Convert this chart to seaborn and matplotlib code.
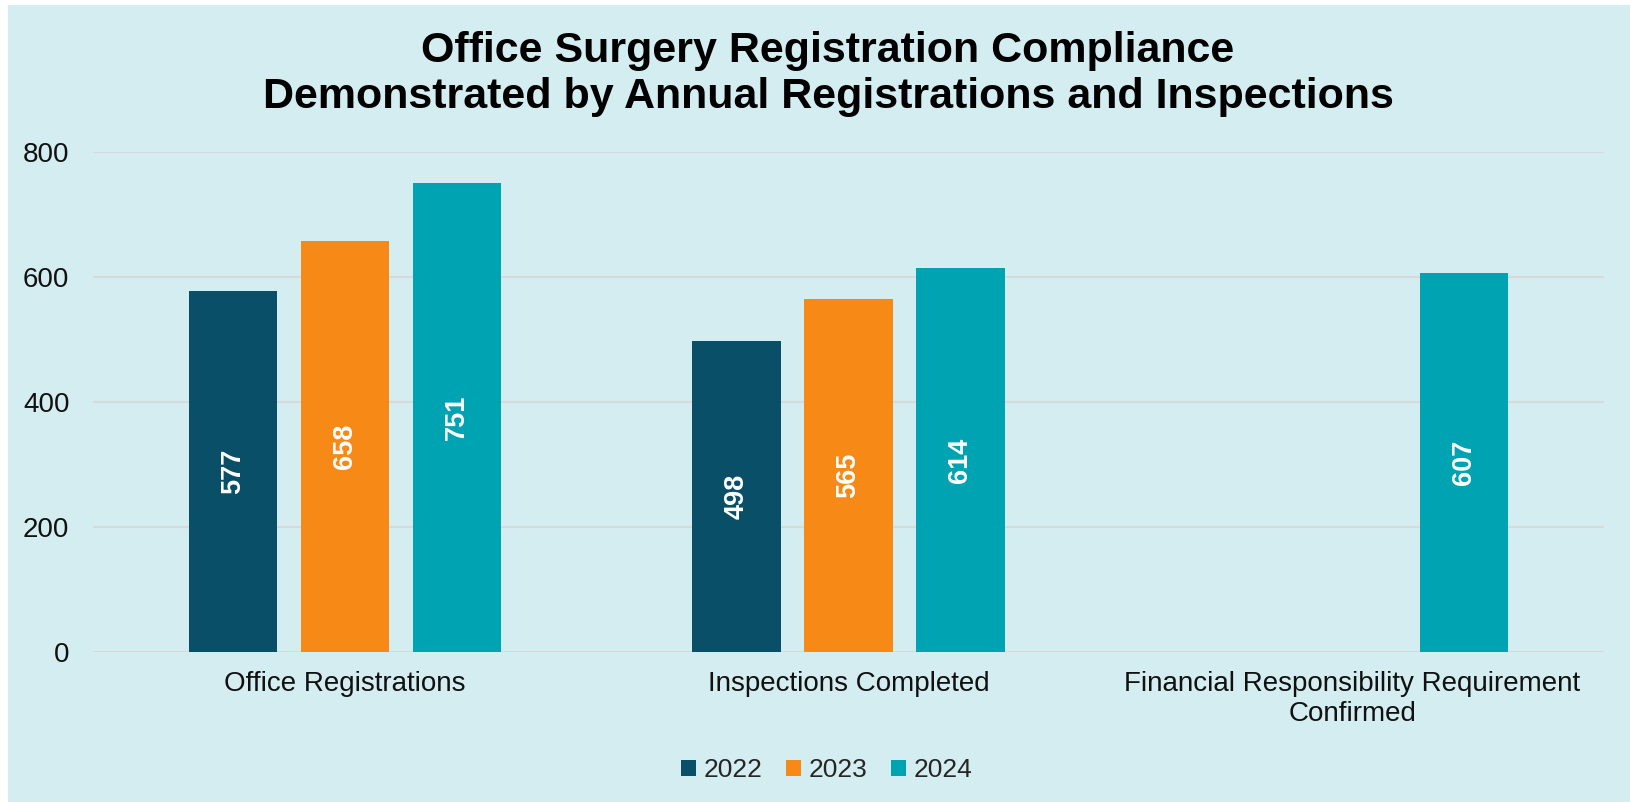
import matplotlib
matplotlib.use("Agg")
import matplotlib.pyplot as plt
import seaborn as sns
import pandas as pd
from matplotlib.patches import Rectangle

categories = ["Office Registrations", "Inspections Completed",
              "Financial Responsibility Requirement\nConfirmed"]
years = ["2022", "2023", "2024"]
values_2022 = [577, 498, None]
values_2023 = [658, 565, None]
values_2024 = [751, 614, 607]
colors = {"2022": "#0A4F68", "2023": "#F78A17", "2024": "#00A3B2"}

rows = []
for yr, vals in zip(years, [values_2022, values_2023, values_2024]):
    for c, v in zip(categories, vals):
        if v is not None:
            rows.append({"Category": c, "Year": yr, "Value": v})
df = pd.DataFrame(rows)

sns.set_theme(style="white")
plt.rcParams['font.family'] = ['Liberation Sans', 'DejaVu Sans']

W, H = 1631, 802
fig = plt.figure(figsize=(W / 100, H / 100), dpi=100, facecolor="white")
bg = "#D4EDF1"
fig.patches.append(Rectangle((8 / W, 0), 1 - 8 / W, 1 - 5 / H, transform=fig.transFigure,
                             facecolor=bg, edgecolor="none", zorder=-10))

ax = fig.add_axes([93 / W, (H - 652) / H, (1604 - 93) / W, 500 / H])
ax.set_facecolor(bg)
ax.patch.set_alpha(0)

sns.barplot(data=df, x="Category", y="Value", hue="Year", order=categories,
            hue_order=years, palette=colors, width=0.667, gap=0.21,
            saturation=1, ax=ax, legend=True, edgecolor="none", linewidth=0)

for cont in ax.containers:
    ax.bar_label(cont, label_type="center", rotation=90, color="white",
                 fontweight="bold", fontsize=19.5)

ax.set_xlim(-0.5, 2.5)
ax.set_ylim(0, 800)
ax.set_yticks([0, 200, 400, 600, 800])
ax.yaxis.grid(True, color="#D9D9D9", linewidth=1.5)
ax.set_axisbelow(True)
for s in ax.spines.values():
    s.set_visible(False)
ax.set_xlabel("")
ax.set_ylabel("")
ax.tick_params(axis="y", length=0, pad=17, labelsize=20, labelcolor="#111111")
ax.tick_params(axis="x", length=0, pad=14, labelsize=20, labelcolor="#111111")

handles, labels = ax.get_legend_handles_labels()
ax.legend_.remove()
fig.legend(handles, labels, loc="center", bbox_to_anchor=(827 / W, 1 - 770 / H),
           ncol=3, frameon=False, fontsize=19, handlelength=0.55, handleheight=0.55,
           handletextpad=0.3, columnspacing=0.9)

fig.text(828 / W, 1 - 74 / H,
         "Office Surgery Registration Compliance\nDemonstrated by Annual Registrations and Inspections",
         ha="center", va="center", fontsize=31, fontweight="bold", color="black",
         linespacing=1.2)

fig.savefig("out.png", dpi=100, facecolor="white")
